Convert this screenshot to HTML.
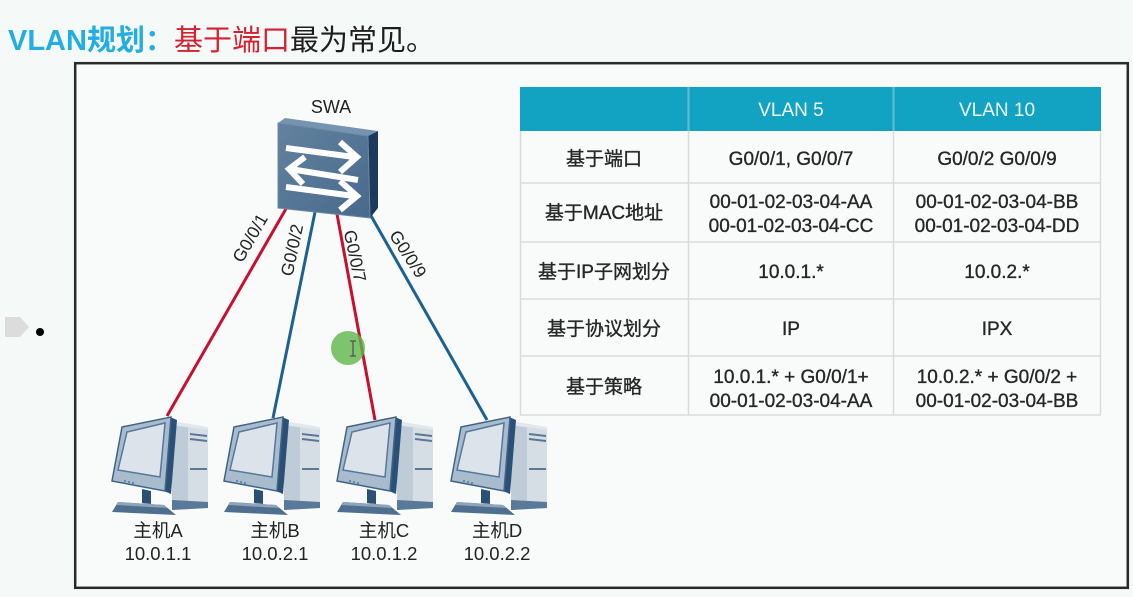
<!DOCTYPE html>
<html>
<head>
<meta charset="utf-8">
<style>
  html,body{margin:0;padding:0;background:#f5f9f8;}
  body{width:1133px;height:597px;overflow:hidden;position:relative;}
  svg{position:absolute;left:0;top:0;}
  .t{font-family:"Liberation Sans","Noto Sans CJK SC",sans-serif;}
</style>
</head>
<body>
<svg width="1133" height="597" viewBox="0 0 1133 597" xmlns="http://www.w3.org/2000/svg">
  <defs>
    <linearGradient id="swf" x1="0" y1="0" x2="1" y2="1">
      <stop offset="0" stop-color="#62829f"/>
      <stop offset="1" stop-color="#48698c"/>
    </linearGradient>
    <g id="pc">
      <!-- tower -->
      <polygon points="64,8 70,5 100,10 100,13" fill="#e2e8ee"/>
      <polygon points="64,8 100,13 100,91 64,93" fill="#bfcbd6"/>
      <polygon points="80,10 100,13 100,91 80,92" fill="#d5dde5"/>
      <path d="M82,17 L99,19 M82,22 L99,24 M82,52 L99,52" stroke="#5c7894" stroke-width="2" fill="none"/>
      <polygon points="64,83 100,85 100,91 64,93" fill="#5a789a"/>
      <!-- monitor side -->
      <polygon points="62,0 69,3 63,77 56,74" fill="#2b5075"/>
      <!-- bezel -->
      <polygon points="14,10 63,0 57,74 4,64" fill="#a9bccd" stroke="#3f6387" stroke-width="1.5"/>
      <!-- screen -->
      <polygon points="19,15 57,6 52,60 10,53" fill="#dde3ea" stroke="#56789a" stroke-width="1.5"/>
      <circle cx="17" cy="64" r="0.9" fill="#3f6387"/>
      <circle cx="21" cy="65" r="0.9" fill="#3f6387"/>
      <circle cx="25" cy="66" r="0.9" fill="#3f6387"/>
      <!-- neck -->
      <polygon points="34,72 43,74 43,87 34,86" fill="#2b5075"/>
      <!-- base -->
      <polygon points="10,85 56,88 68,98 4,95" fill="#4f6f90"/>
      <polygon points="10,85 56,88 59,91 8,88" fill="#8ea4ba"/>
    </g>
  </defs>

  <!-- Title -->
  <text class="t" x="8" y="50" font-size="29">
    <tspan fill="#22aee2" font-weight="bold">VLAN规划：</tspan><tspan fill="#d4202f">基于端口</tspan><tspan fill="#1e1e1e">最为常见。</tspan>
  </text>

  <!-- Bullet -->
  <polygon points="5,317 20,317 29,327 20,337 5,337" fill="#dcdcdc"/>
  <circle cx="40" cy="332" r="4" fill="#000"/>

  <!-- Main box -->
  <rect x="75.2" y="63.2" width="1052.6" height="524.6" fill="#f8fbfa" stroke="#2a2a2a" stroke-width="2.5"/>

  <!-- Table -->
  <g>
    <rect x="520" y="87" width="581" height="44" fill="#12a2c2"/>
    <rect x="520" y="131" width="581" height="284" fill="#f8fbfa"/>
    <g stroke="#d8dcdc" stroke-width="1.5" fill="none">
      <line x1="688.5" y1="87" x2="688.5" y2="415"/>
      <line x1="893.5" y1="87" x2="893.5" y2="415"/>
      <line x1="520" y1="183" x2="1101" y2="183"/>
      <line x1="520" y1="242" x2="1101" y2="242"/>
      <line x1="520" y1="299" x2="1101" y2="299"/>
      <line x1="520" y1="356" x2="1101" y2="356"/>
      <line x1="520" y1="415" x2="1101" y2="415"/>
      <line x1="520.5" y1="131" x2="520.5" y2="415"/>
      <line x1="1100.5" y1="131" x2="1100.5" y2="415"/>
    </g>
    <g stroke="#5cbcd4" stroke-width="1.2">
      <line x1="688.5" y1="87" x2="688.5" y2="131"/>
      <line x1="893.5" y1="87" x2="893.5" y2="131"/>
    </g>
    <g class="t" font-size="19" text-anchor="middle" fill="#eef8fb">
      <text x="791" y="116">VLAN 5</text>
      <text x="997" y="116">VLAN 10</text>
    </g>
    <g class="t" font-size="19" text-anchor="middle" fill="#262626" stroke="#262626" stroke-width="0.35">
      <text x="604" y="165">基于端口</text>
      <text x="791" y="165">G0/0/1, G0/0/7</text>
      <text x="997" y="165">G0/0/2 G0/0/9</text>

      <text x="604" y="219">基于MAC地址</text>
      <text x="791" y="208">00-01-02-03-04-AA</text>
      <text x="791" y="232">00-01-02-03-04-CC</text>
      <text x="997" y="208">00-01-02-03-04-BB</text>
      <text x="997" y="232">00-01-02-03-04-DD</text>

      <text x="604" y="278">基于IP子网划分</text>
      <text x="791" y="278">10.0.1.*</text>
      <text x="997" y="278">10.0.2.*</text>

      <text x="604" y="335">基于协议划分</text>
      <text x="791" y="335">IP</text>
      <text x="997" y="335">IPX</text>

      <text x="604" y="393">基于策略</text>
      <text x="791" y="383">10.0.1.* + G0/0/1+</text>
      <text x="791" y="407">00-01-02-03-04-AA</text>
      <text x="997" y="383">10.0.2.* + G0/0/2 +</text>
      <text x="997" y="407">00-01-02-03-04-BB</text>
    </g>
  </g>

  <!-- Links -->
  <g stroke-width="3" fill="none">
    <line x1="287" y1="207" x2="167" y2="416" stroke="#c8102e"/>
    <line x1="315" y1="212" x2="273" y2="418" stroke="#1d6193"/>
    <line x1="337" y1="214" x2="375" y2="420" stroke="#c8102e"/>
    <line x1="370" y1="214" x2="487" y2="420" stroke="#1d6193"/>
  </g>

  <!-- Link labels -->
  <g class="t" font-size="17.5" fill="#222" text-anchor="middle" dominant-baseline="central">
    <text transform="translate(250,238) rotate(-60)">G0/0/1</text>
    <text transform="translate(292,250) rotate(-78)">G0/0/2</text>
    <text transform="translate(355,256) rotate(78)">G0/0/7</text>
    <text transform="translate(408,254) rotate(57)">G0/0/9</text>
  </g>

  <!-- Switch -->
  <text class="t" x="331" y="113" font-size="18" fill="#222" text-anchor="middle">SWA</text>
  <polygon points="278,123 285,118 378,131 368,136" fill="#7694b0"/>
  <polygon points="368,136 378,131 378,208 370,218" fill="#1c3b5c"/>
  <polygon points="278,123 368,136 370,218 278,208" fill="url(#swf)" stroke="#6d8aa6" stroke-width="1"/>
  <g stroke="#ffffff" stroke-width="6" fill="none" stroke-linecap="butt" stroke-linejoin="miter">
    <line x1="286" y1="148" x2="354" y2="157"/>
    <polyline points="340,142 357,157 340,172"/>
    <line x1="290" y1="169" x2="358" y2="180"/>
    <polyline points="305,157 289,169 303,184"/>
    <line x1="286" y1="187" x2="354" y2="196"/>
    <polyline points="340,181 357,196 340,210"/>
  </g>

  <!-- PCs -->
  <use href="#pc" x="108" y="417"/>
  <use href="#pc" x="220" y="417"/>
  <use href="#pc" x="333" y="417"/>
  <use href="#pc" x="447" y="417"/>

  <g class="t" font-size="18.5" fill="#222" text-anchor="middle">
    <text x="158" y="537">主机A</text>
    <text x="158" y="560">10.0.1.1</text>
    <text x="275" y="537">主机B</text>
    <text x="275" y="560">10.0.2.1</text>
    <text x="384" y="537">主机C</text>
    <text x="384" y="560">10.0.1.2</text>
    <text x="497" y="537">主机D</text>
    <text x="497" y="560">10.0.2.2</text>
  </g>

  <!-- cursor highlight -->
  <circle cx="348" cy="348" r="17" fill="#5cb84a" fill-opacity="0.8"/>
  <g stroke="#555" stroke-width="1.3" fill="none">
    <line x1="353" y1="341" x2="353" y2="356"/>
    <line x1="350" y1="341" x2="356" y2="341"/>
    <line x1="350" y1="356" x2="356" y2="356"/>
  </g>
</svg>
</body>
</html>
